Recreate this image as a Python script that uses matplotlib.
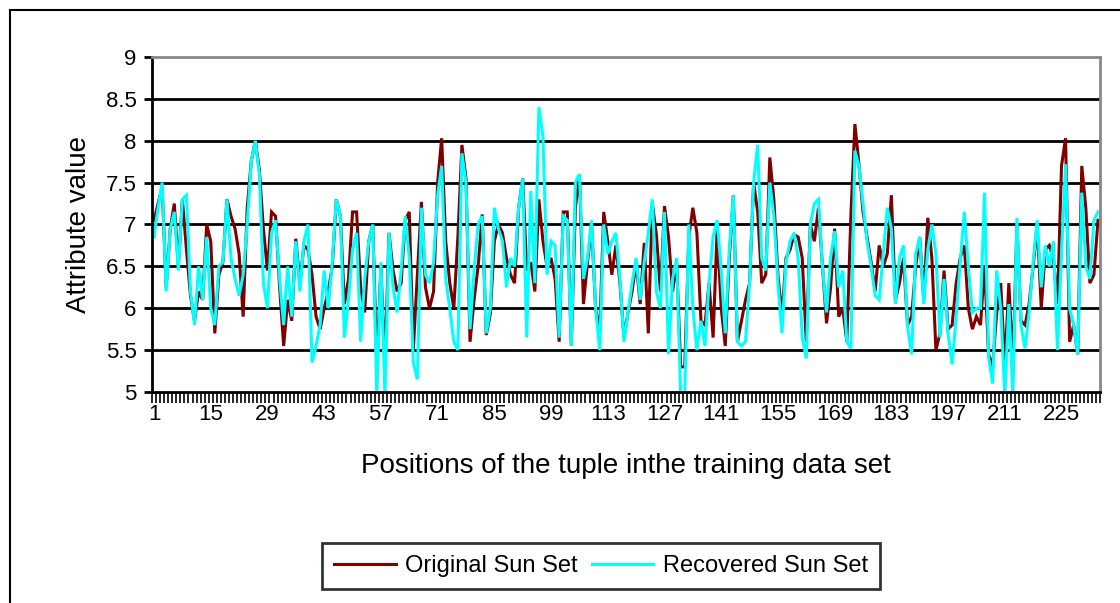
import matplotlib
matplotlib.use("Agg")
import matplotlib.pyplot as plt
from matplotlib.lines import Line2D

# values, left to right
recovered = [
    6.85, 7.2, 7.5, 6.2, 6.95, 7.15, 6.45, 7.3, 7.35, 6.2, 5.8, 6.5, 6.1, 6.85, 6.0, 5.8, 6.5,
    6.55, 7.3, 6.6, 6.35, 6.15, 6.4, 7.0, 7.75, 8.0, 7.6, 6.3, 6.0, 6.9, 7.05, 6.35, 5.8, 6.5,
    5.9, 6.8, 6.2, 6.8, 7.0, 5.35, 5.55, 5.8, 6.45, 6.0, 6.55, 7.3, 7.1, 5.65, 6.1, 6.7, 6.9,
    5.6, 6.35, 6.8, 7.0, 4.95, 6.55, 4.95, 6.9, 6.25, 5.95, 6.45, 7.1, 6.6, 5.35, 5.15, 7.2, 6.4,
    6.3, 6.55, 7.35, 7.7, 6.35, 6.0, 5.6, 5.5, 7.85, 7.5, 5.75, 6.45, 7.0, 7.1, 5.7, 6.0, 7.2,
    6.95, 6.8, 6.25, 6.6, 6.5, 7.2, 7.55, 5.65, 7.4, 6.3, 8.4, 8.05, 6.4, 6.8, 6.75, 5.65, 7.1,
    7.05, 5.55, 7.5, 7.6, 6.35, 6.6, 7.05, 6.0, 5.5, 7.0, 6.65, 6.8, 6.9, 6.35, 5.6, 5.95, 6.3,
    6.6, 6.1, 6.55, 6.9, 7.3, 6.2, 6.0, 7.15, 5.45, 6.35, 6.6, 4.95, 4.95, 7.0, 6.0, 5.5, 5.85,
    5.55, 6.3, 6.85, 7.05, 6.45, 5.7, 6.7, 7.35, 5.6, 5.55, 5.6, 6.3, 7.5, 7.95, 6.6, 6.45, 7.5,
    7.1, 6.3, 5.7, 6.55, 6.8, 6.9, 6.6, 5.65, 5.4, 7.0, 7.25, 7.3, 6.5, 5.95, 6.6, 6.92, 6.25,
    6.45, 5.6, 5.52, 7.88, 7.7, 7.25, 6.8, 6.5, 6.15, 6.1, 6.65, 7.2, 6.95, 6.05, 6.6, 6.75, 5.78,
    5.45, 6.65, 6.85, 6.05, 6.7, 7.0, 6.65, 5.65, 6.35, 5.7, 5.33, 5.9, 6.55, 7.15, 6.5, 5.95, 6.0,
    6.0, 7.38, 5.42, 5.1, 6.45, 6.0, 4.95, 6.05, 4.95, 7.08, 5.8, 5.52, 5.95, 6.55, 7.05, 6.25,
    6.75, 6.5, 6.8, 5.5, 6.65, 7.72, 6.0, 5.8, 5.45, 7.38, 6.5, 6.35, 7.05, 7.15,
]
original = [
    7.05, 7.25, 7.45, 6.25, 6.95, 7.25, 6.5, 7.3, 6.7, 6.15, 5.85, 6.2, 6.1, 7.0, 6.8, 5.7, 6.4,
    6.55, 7.3, 7.1, 6.95, 6.65, 5.9, 7.2, 7.75, 8.0, 7.65, 6.95, 6.45, 7.15, 7.1, 6.25, 5.55, 6.1,
    5.85, 6.83, 6.3, 6.75, 6.7, 6.4, 5.9, 5.75, 6.0, 6.2, 6.5, 7.3, 7.1, 6.05, 6.35, 7.15, 7.15,
    6.25, 5.95, 6.8, 7.0, 5.3, 6.5, 5.3, 6.9, 6.45, 6.2, 6.3, 7.05, 7.15, 5.5, 6.4, 7.27, 6.25,
    6.0, 6.2, 7.5, 8.03, 6.8, 6.3, 6.0, 6.85, 7.95, 7.55, 5.6, 6.1, 6.5, 7.12, 5.68, 5.93, 6.8,
    7.0, 6.9, 6.6, 6.4, 6.3, 7.2, 7.55, 6.45, 6.55, 6.2, 7.3, 6.8, 6.5, 6.6, 6.35, 5.6, 7.15,
    7.15, 5.55, 7.2, 7.6, 6.05, 6.55, 7.0, 6.0, 5.7, 7.15, 6.8, 6.4, 6.75, 6.3, 5.65, 5.95, 6.2,
    6.55, 6.05, 6.78, 5.7, 7.25, 6.88, 6.2, 7.22, 6.85, 6.2, 6.55, 5.3, 5.3, 6.85, 7.2, 6.9, 5.85,
    5.8, 6.3, 5.65, 6.95, 6.0, 5.55, 6.6, 7.35, 5.6, 5.85, 6.1, 6.3, 7.5, 7.15, 6.3, 6.4, 7.8,
    7.3, 6.4, 5.9, 6.6, 6.7, 6.88, 6.85, 6.6, 5.6, 7.0, 6.8, 7.2, 6.5, 5.82, 6.25, 6.95, 5.9,
    6.0, 5.6, 7.1, 8.2, 7.72, 7.15, 6.85, 6.55, 6.2, 6.75, 6.5, 6.65, 7.35, 6.1, 6.3, 6.6, 5.8,
    5.9, 6.5, 6.85, 6.1, 7.08, 6.6, 5.5, 5.7, 6.45, 5.75, 5.8, 6.3, 6.6, 6.75, 6.0, 5.75, 5.9,
    5.8, 6.5, 5.45, 5.3, 5.95, 6.3, 5.3, 6.3, 5.3, 7.0, 5.85, 5.8, 6.05, 6.5, 7.0, 6.0,
    6.7, 6.75, 6.6, 6.05, 7.7, 8.03, 5.6, 5.8, 5.45, 7.7, 7.2, 6.3, 6.4, 7.05,
]
positions = list(range(1, len(recovered) + 1))
tick_labels = list(range(1, 226, 14))
y_ticks = [5, 5.5, 6, 6.5, 7, 7.5, 8, 8.5, 9]

plt.rcParams['font.family'] = ['Liberation Sans Narrow', 'Liberation Sans', 'DejaVu Sans']

fig = plt.figure(figsize=(11.2, 6.03), dpi=100)
ax = fig.add_axes([152 / 1120, 211 / 603, 948 / 1120, 335 / 603])

ax.plot(positions, original, color='#800000', lw=2.2, solid_joinstyle='miter', label='Original Sun Set')
ax.plot(positions, recovered, color='#00FFFF', lw=2.2, solid_joinstyle='miter', label='Recovered Sun Set')

ax.set_xlim(0.5, len(positions) + 0.5)
ax.set_ylim(5, 9)
ax.set_yticks(y_ticks)
ax.set_yticklabels(['%g' % v for v in y_ticks])
ax.set_xticks(tick_labels)
ax.set_xticklabels([str(v) for v in tick_labels])
ax.set_xticks([p - 0.5 for p in positions] + [len(positions) + 0.5], minor=True)
ax.tick_params(axis='x', which='major', length=0, pad=9, labelsize=16)
ax.tick_params(axis='x', which='minor', length=8, width=1.2, color='black', direction='out')
ax.tick_params(axis='y', length=6, width=2, labelsize=16, pad=5)

for v in y_ticks[1:-1]:
    ax.axhline(v, color='black', lw=2, zorder=0.5)
for side in ['top', 'right']:
    ax.spines[side].set_color('#888888')
    ax.spines[side].set_linewidth(2)
for side in ['left', 'bottom']:
    ax.spines[side].set_color('black')
    ax.spines[side].set_linewidth(2)

ax.set_xlabel('Positions of the tuple inthe training data set', fontsize=20, labelpad=20)
ax.set_ylabel('Attribute value', fontsize=20, labelpad=10)

leg = fig.legend(loc='center', bbox_to_anchor=(601 / 1120, 1 - 566 / 603), ncol=2,
                 fontsize=17, frameon=True, fancybox=False, handlelength=2.6,
                 columnspacing=0.6, borderpad=0.5, handletextpad=0.4)
leg.get_frame().set_edgecolor('black')
leg.get_frame().set_linewidth(2)

# chart area border
fig.add_artist(Line2D([10 / 1120, 10 / 1120], [0, 1 - 10 / 603], color='black', lw=1.5))
fig.add_artist(Line2D([10 / 1120, 1], [1 - 10 / 603, 1 - 10 / 603], color='black', lw=1.5))

fig.savefig('out.png', dpi=100)
